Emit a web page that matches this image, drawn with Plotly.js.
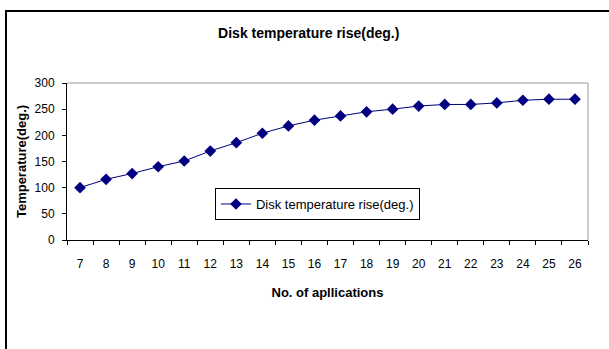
<!DOCTYPE html>
<html>
<head>
<meta charset="utf-8">
<script src="https://cdn.plot.ly/plotly-3.0.1.min.js"></script>
<style>
html,body{margin:0;padding:0;background:#fff;}
#wrap{position:relative;width:609px;height:349px;overflow:hidden;}
#frame{position:absolute;left:5px;top:10px;width:620px;height:360px;border-top:2px solid #000;border-left:2px solid #000;pointer-events:none;z-index:5;}
#chart{position:absolute;left:0;top:0;width:609px;height:349px;}
</style>
</head>
<body>
<div id="wrap"><div id="chart"></div><div id="frame"></div></div>
<script>
const applications = ["7","8","9","10","11","12","13","14","15","16","17","18","19","20","21","22","23","24","25","26"];
const temperatureRise = [100,116,127,140,151,170,186,204,218,229,237,245,250,256,259,259,262,267,269,269];
const seriesName = "Disk temperature rise(deg.)";
const yTicks = [0,50,100,150,200,250,300];

const fam = "Liberation Sans, Arial, sans-serif";
const font = {family: fam, size: 12, color: "#000"};

Plotly.newPlot("chart", [{
  type: "scatter",
  mode: "lines+markers",
  x: applications,
  y: temperatureRise,
  name: seriesName,
  line: {color: "#000080", width: 1},
  marker: {symbol: "diamond", size: 9, color: "#000080"}
}], {
  width: 609, height: 349,
  margin: {l: 67, r: 21, t: 83, b: 109, pad: 0},
  paper_bgcolor: "#fff", plot_bgcolor: "#fff",
  font: font,
  showlegend: true,
  title: {text: "<b>Disk temperature rise(deg.)</b>", font: {family: fam, size: 14, color: "#000"}, x: 0.507, xref: "container", y: 1 - 33/349, yanchor: "middle"},
  xaxis: {
    type: "category",
    range: [-0.5, applications.length - 0.5],
    tickson: "boundaries",
    ticks: "outside", ticklen: 4, tickcolor: "#000", tickwidth: 1,
    showline: true, linecolor: "#000", linewidth: 1,
    showgrid: false, zeroline: false,
    ticklabelstandoff: 13,
    tickfont: font,
    title: {text: "<b>No. of apllications</b>", font: {family: fam, size: 13, color: "#000"}, standoff: 17}
  },
  yaxis: {
    range: [0, 300],
    tickvals: yTicks,
    ticks: "outside", ticklen: 4, tickcolor: "#000", tickwidth: 1,
    showline: true, linecolor: "#000", linewidth: 1,
    showgrid: false, zeroline: false,
    ticklabelstandoff: 5,
    tickfont: font,
    title: {text: "<b>Temperature(deg.)</b>", font: {family: fam, size: 13, color: "#000"}, standoff: 5}
  },
  legend: {
    x: 0.284, y: 0.331, xanchor: "left", yanchor: "top",
    bgcolor: "#fff", bordercolor: "#000", borderwidth: 1,
    font: {family: fam, size: 13, color: "#000"}, itemwidth: 30
  },
  shapes: [
    {type: "line", xref: "paper", yref: "paper", x0: 0, x1: 1, y0: 1, y1: 1, line: {color: "#999", width: 1}},
    {type: "line", xref: "paper", yref: "paper", x0: 1, x1: 1, y0: 0, y1: 1, line: {color: "#999", width: 1}}
  ]
}, {displayModeBar: false, staticPlot: true});
</script>
</body>
</html>
